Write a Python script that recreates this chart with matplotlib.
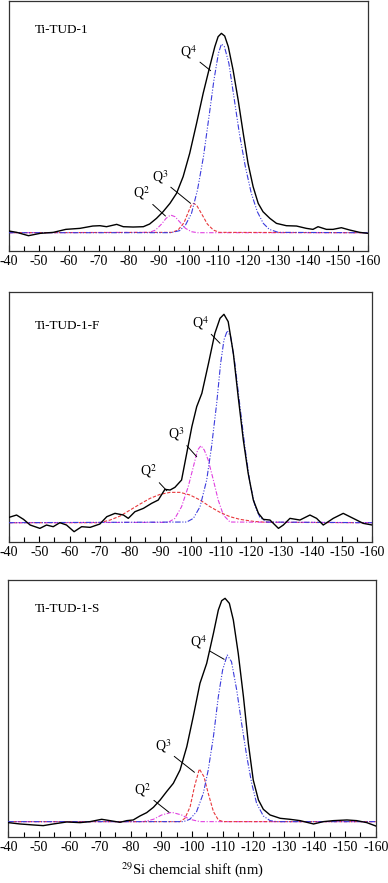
import matplotlib
matplotlib.use("Agg")
import matplotlib.pyplot as plt
from matplotlib.ticker import MultipleLocator

plt.rcParams['font.family'] = ['Liberation Serif', 'DejaVu Serif']
plt.rcParams['mathtext.fontset'] = 'stix'
plt.rcParams['axes.unicode_minus'] = False

# ---------------- data (chemical shift, intensity a.u. above baseline) ----------------
samples = ["Ti-TUD-1", "Ti-TUD-1-F", "Ti-TUD-1-S"]

# Panel 1: Ti-TUD-1
p1_shift = [-40, -42.6, -46.5, -50.4, -54.8, -59, -63.7, -68, -70.4, -72.6, -76, -78.2, -81.5,
            -84.9, -87, -89.3, -91.5, -93.8, -96, -98.2, -100.4, -102.7, -104.9, -107.1, -108.8,
            -109.9, -111, -112.1, -113.3, -114.9, -116.6, -118.3, -119.9, -121.6, -123.3, -124.9,
            -127.2, -129.4, -132.7, -136.1, -139.4, -141.6, -143.3, -146.1, -148.3, -151.1, -153.9,
            -157.2, -160]
p1_total = [5, 1, -9, -2, 1, 10, 13, 20, 21, 18, 25, 18, 17, 18, 26, 43, 63, 88, 118, 168, 238,
            328, 418, 498, 558, 588, 598, 590, 558, 488, 398, 298, 208, 138, 88, 63, 43, 28, 21,
            20, 13, 10, 18, 10, 10, 15, 8, 1, -2]
p1_q4_shift = [-40, -94, -97, -99, -101, -103, -105, -107, -108.5, -110, -111, -112, -113.5, -115,
               -117, -119, -121, -123, -125, -127, -130, -160]
p1_q4 = [0, 0, 6, 23, 58, 128, 228, 358, 458, 538, 566, 558, 508, 418, 298, 198, 118, 63, 28, 10, 1, 0]
p1_q3_shift = [-40, -94.5, -96.5, -98.5, -100, -101, -101.8, -102.8, -104.3, -106.3, -108.3, -110.3, -160]
p1_q3 = [0, 1, 8, 30, 63, 84, 88, 81, 58, 26, 8, 1, 0]
p1_q2_shift = [-40, -87, -89, -91, -92.5, -94, -95.5, -97, -99, -101, -103, -160]
p1_q2 = [0, 1, 8, 26, 43, 53, 48, 33, 13, 3, 0, 0]

# Panel 2: Ti-TUD-1-F
p2_shift = [-40, -42.5, -44.8, -47, -50.2, -52.4, -54.6, -56.8, -59, -61.5, -64, -66.8, -70, -72.3,
            -75, -77.8, -79.4, -81.6, -84.4, -87.1, -89.3, -91.5, -93.2, -94.8, -97, -98.7, -100.4,
            -102, -103.7, -105.9, -108, -109.7, -111, -112.4, -114.1, -115.7, -117.4, -119, -120.7,
            -122.4, -124, -126.2, -129, -130.6, -132.8, -136.1, -139.4, -141.6, -143.8, -147.1,
            -150.4, -153.7, -157, -160]
p2_total = [16, 23, 10, -7, -17, -7, -12, 0, -7, -27, -12, -14, -4, 18, 28, 23, 13, 33, 43, 58, 68,
            100, 98, 106, 128, 208, 288, 348, 388, 478, 568, 613, 625, 603, 508, 378, 248, 148, 68,
            28, 10, 8, -17, -7, 13, 8, 23, 13, -7, 13, 28, 13, -2, -7]
p2_q4_shift = [-40, -98.7, -100.9, -103.1, -105.3, -106.9, -108.6, -109.9, -111, -112.1, -113.2,
               -114.6, -116.3, -117.9, -119.6, -121.3, -122.9, -125.1, -160]
p2_q4 = [0, 2, 13, 48, 128, 228, 358, 478, 548, 576, 558, 478, 348, 228, 118, 48, 16, 2, 0]
p2_q3_shift = [-40, -92.6, -94.8, -97, -99.2, -100.9, -102.3, -103.4, -104.5, -105.8, -107.5,
               -109.1, -110.8, -113, -160]
p2_q3 = [0, 1, 13, 48, 108, 168, 218, 231, 218, 188, 128, 68, 23, 2, 0]
p2_q2_shift = [-40, -70, -73.4, -76.7, -80, -83.3, -86.6, -89.9, -93.2, -96.5, -99.8, -103.1,
               -106.4, -109.7, -113, -116.3, -120.7, -125.1, -160]
p2_q2 = [0, 0, 8, 20, 38, 56, 73, 85, 91, 91, 83, 68, 48, 31, 18, 10, 4, 1, 0]

# Panel 3: Ti-TUD-1-S
p3_shift = [-40, -43.8, -48.2, -51.4, -54.7, -59.1, -63.4, -66.7, -70.5, -73.2, -76.5, -78.7, -80.8,
            -83, -85.2, -87.4, -89.6, -91.7, -93.9, -96.1, -98.3, -100.4, -102.6, -104.8, -107,
            -108.6, -109.7, -110.8, -112.2, -113.5, -115.1, -116.8, -118.4, -120, -121.7, -123.3,
            -125.5, -128.8, -132, -135.3, -139.7, -142.9, -146.2, -150.6, -153.8, -157.1, -160]
p3_total = [-3, -7, -10, -12, -7, -1, -3, 0, 7, 3, -2, 3, 5, 17, 27, 43, 65, 90, 115, 155, 225, 315,
            415, 475, 565, 635, 663, 670, 655, 605, 505, 375, 235, 125, 65, 37, 20, 10, 7, 3, -7,
            0, 3, 5, 3, -3, -13]
p3_q4_shift = [-40, -97.2, -99.3, -101.5, -103.7, -105.3, -107, -108.6, -110, -111.5, -112.9,
               -114.6, -116.2, -117.9, -119.5, -121.1, -123.3, -125.5, -127.7, -160]
p3_q4 = [0, 0, 7, 30, 85, 155, 255, 375, 455, 500, 480, 395, 295, 195, 115, 55, 17, 3, 0, 0]
p3_q3_shift = [-40, -96.1, -97.7, -99.4, -100.8, -102.4, -103.9, -105.3, -107, -108.6, -110.2, -160]
p3_q3 = [0, 0, 10, 45, 105, 158, 135, 85, 30, 5, 0, 0]
p3_q2_shift = [-40, -84.1, -87.4, -90.1, -93.4, -96.6, -99.3, -102.6, -160]
p3_q2 = [0, 0, 7, 20, 28, 20, 7, 0, 0]

x_ticks = [-40, -50, -60, -70, -80, -90, -100, -110, -120, -130, -140, -150, -160]
x_label = r"$^{29}$Si chemcial shift (nm)"

# annotation (text position, target) per panel: (label, text_x, text_y, target_x, target_y)
p1_notes = [("4", -100.1, 543, -107.4, 486), ("3", -90.4, 168, -100.7, 88), ("2", -84.3, 118, -92.3, 50)]
p2_notes = [("4", -103.1, 600, -109.7, 538), ("3", -95.2, 266, -102.0, 198), ("2", -86.0, 155, -92.1, 96)]
p3_notes = [("4", -102.1, 540, -110.5, 487), ("3", -90.6, 227, -100.8, 148), ("2", -83.9, 95, -92.5, 28)]

# ---------------- styling ----------------
BLUE = '#3b3bdc'
RED = '#e8383c'
MAG = '#e040e0'
blue_dash = (0, (5, 1.5, 1, 1.5, 1, 1.5))
red_dash = (0, (3, 1.5))
mag_dash = (0, (4, 1.5, 1, 1.5))

fig = plt.figure(figsize=(3.88, 8.83), dpi=100)
W, H = 388.0, 883.0

# axes boxes in pixels: left, right, top, bottom
boxes = [(9, 368, 0.5, 250.7), (9, 372.3, 292.3, 541.7), (8.3, 375.7, 580, 837.3)]
ylims = [(-54, 696.5), (-57, 691), (-47, 725)]
label_pos = [(0.072, 0.882), (0.072, 0.866), (0.073, 0.887)]

panels = [
    (p1_shift, p1_total, p1_q4_shift, p1_q4, p1_q3_shift, p1_q3, RED, red_dash,
     p1_q2_shift, p1_q2, MAG, mag_dash, p1_notes),
    (p2_shift, p2_total, p2_q4_shift, p2_q4, p2_q3_shift, p2_q3, MAG, mag_dash,
     p2_q2_shift, p2_q2, RED, red_dash, p2_notes),
    (p3_shift, p3_total, p3_q4_shift, p3_q4, p3_q3_shift, p3_q3, RED, red_dash,
     p3_q2_shift, p3_q2, MAG, mag_dash, p3_notes),
]

for i, (box, yl, lp, pdata) in enumerate(zip(boxes, ylims, label_pos, panels)):
    l, r, t, b = box
    ax = fig.add_axes([l / W, (H - b) / H, (r - l) / W, (b - t) / H])
    (sx, tot, q4x, q4, q3x, q3, c3, d3, q2x, q2, c2, d2, notes) = pdata
    ax.plot(q2x, q2, color=c2, lw=0.8, linestyle=d2, zorder=2)
    ax.plot(q3x, q3, color=c3, lw=0.8, linestyle=d3, zorder=2)
    ax.plot(q4x, q4, color=BLUE, lw=0.8, linestyle=blue_dash, zorder=3)
    ax.plot(sx, tot, color='black', lw=1.0, zorder=4)
    ax.set_xlim(-40, -160)
    ax.set_ylim(*yl)
    ax.set_yticks([])
    ax.set_xticks(x_ticks)
    ax.set_xticklabels([str(v) for v in x_ticks])
    ax.xaxis.set_minor_locator(MultipleLocator(5))
    ax.tick_params(axis='x', which='major', direction='in', length=4, width=0.8,
                   labelsize=10, pad=3, top=False)
    ax.tick_params(axis='x', which='minor', direction='in', length=3.5, width=0.8, top=False)
    for sp in ax.spines.values():
        sp.set_linewidth(0.9)
        sp.set_color('#333333')
    ax.text(lp[0], lp[1], samples[i], transform=ax.transAxes, fontsize=9.5,
            ha='left', va='center')
    for (q, tx, ty, px, py) in notes:
        ax.annotate("Q$^{\\mathrm{" + q + "}}$", xy=(px, py), xytext=(tx, ty),
                    fontsize=10, ha='center', va='center',
                    arrowprops=dict(arrowstyle='-', lw=0.7, color='black',
                                    relpos=(0.85, 0.15), shrinkA=0, shrinkB=0))
    if i == 2:
        ax.set_xlabel(x_label, fontsize=10.5, labelpad=4)

fig.savefig("out.png", dpi=100)
